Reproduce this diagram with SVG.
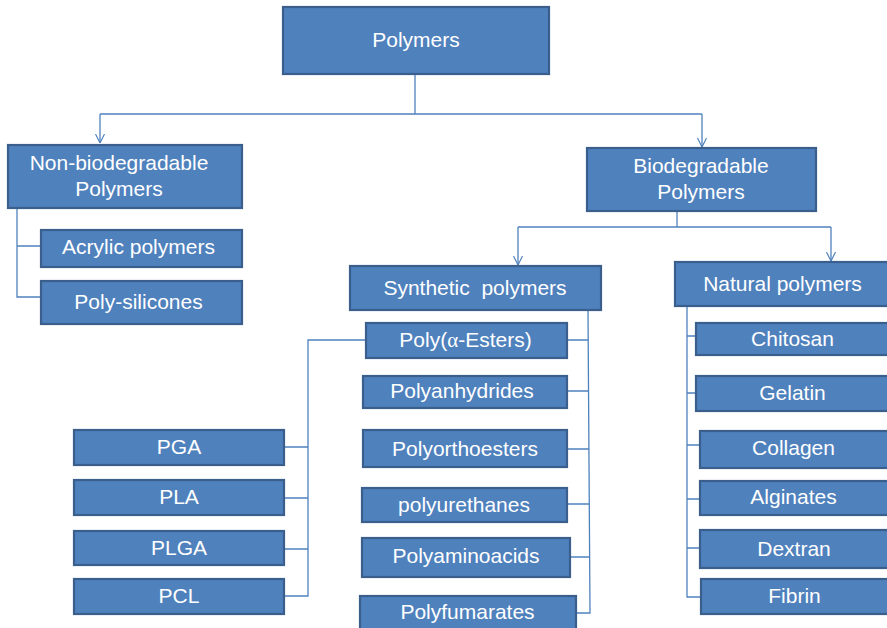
<svg xmlns="http://www.w3.org/2000/svg" width="887" height="628" viewBox="0 0 887 628">
<defs>
<style>
.box{fill:#4F81BD;stroke:#3A5F8C;stroke-width:2.2}
.t{fill:#FFFFFF;font-family:"Liberation Sans",Arial,sans-serif;font-size:21px;text-anchor:middle}
.c{fill:none;stroke:#4F81BD;stroke-width:1.3}
.a{fill:none;stroke:#4F81BD;stroke-width:1.3}
</style>
<marker id="arr" markerUnits="userSpaceOnUse" viewBox="0 0 10 10" refX="10" refY="5" markerWidth="9" markerHeight="10" orient="auto">
<path class="a" d="M0,0 L10,5 L0,10"/>
</marker>
</defs>
<rect width="887" height="628" fill="#FFFFFF"/>

<g id="connectors">
<path class="c" d="M415,74 V114"/>
<path class="c" d="M100,114 H702"/>
<path class="c" d="M100,114 V143" marker-end="url(#arr)"/>
<path class="c" d="M702,114 V147" marker-end="url(#arr)"/>
<path class="c" d="M677,211 V227"/>
<path class="c" d="M518,227 H831"/>
<path class="c" d="M518,227 V265" marker-end="url(#arr)"/>
<path class="c" d="M831,227 V261" marker-end="url(#arr)"/>
<path class="c" d="M17,208 V297 H41 M17,246 H41"/>
<path class="c" d="M588,310 L590,613 H576 M567,340 H588 M567,391 H588 M567,449 H589 M567,504 H589 M570,557 H590"/>
<path class="c" d="M366,340 H308 V596 H284 M308,447 H284 M308,498 H284 M308,549 H284"/>
<path class="c" d="M687,306 V597 H701 M687,336 H696 M687,393 H696 M687,445 H700 M687,499 H700 M687,548 H700"/>
</g>

<g id="n-polymers"><rect class="box" x="283" y="7" width="266" height="67"/><text class="t" x="416" y="47">Polymers</text></g>
<g id="n-nonbio"><rect class="box" x="8" y="145" width="234" height="63"/><text class="t" x="119" y="170">Non-biodegradable</text><text class="t" x="119" y="196">Polymers</text></g>
<g id="n-bio"><rect class="box" x="587" y="148" width="229" height="63"/><text class="t" x="701" y="173">Biodegradable</text><text class="t" x="701" y="199">Polymers</text></g>
<g id="n-acrylic"><rect class="box" x="41" y="230" width="201" height="37"/><text class="t" x="138.5" y="254">Acrylic polymers</text></g>
<g id="n-polysilicones"><rect class="box" x="41" y="281" width="201" height="43"/><text class="t" x="138.5" y="309">Poly-silicones</text></g>
<g id="n-synthetic"><rect class="box" x="350" y="266" width="251" height="44"/><text class="t" x="475" y="295" xml:space="preserve">Synthetic  polymers</text></g>
<g id="n-natural"><rect class="box" x="675" y="262" width="214" height="44"/><text class="t" x="782.5" y="291">Natural polymers</text></g>

<g id="n-esters"><rect class="box" x="366" y="323" width="201" height="35"/><text class="t" x="465.5" y="347">Poly(<tspan font-family="'Liberation Serif',serif">α</tspan>-Esters)</text></g>
<g id="n-anhydrides"><rect class="box" x="363" y="376" width="204" height="32"/><text class="t" x="462" y="398">Polyanhydrides</text></g>
<g id="n-orthoesters"><rect class="box" x="363" y="430" width="204" height="37"/><text class="t" x="465" y="456">Polyorthoesters</text></g>
<g id="n-urethanes"><rect class="box" x="362" y="488" width="205" height="34"/><text class="t" x="464" y="512">polyurethanes</text></g>
<g id="n-aminoacids"><rect class="box" x="362" y="538" width="208" height="39"/><text class="t" x="466" y="563">Polyaminoacids</text></g>
<g id="n-fumarates"><rect class="box" x="360" y="596" width="216" height="36"/><text class="t" x="467.5" y="619">Polyfumarates</text></g>

<g id="n-pga"><rect class="box" x="74" y="430" width="210" height="35"/><text class="t" x="179" y="454">PGA</text></g>
<g id="n-pla"><rect class="box" x="74" y="480" width="210" height="35"/><text class="t" x="179" y="504">PLA</text></g>
<g id="n-plga"><rect class="box" x="74" y="531" width="210" height="34"/><text class="t" x="179" y="555">PLGA</text></g>
<g id="n-pcl"><rect class="box" x="74" y="579" width="210" height="35"/><text class="t" x="179" y="603">PCL</text></g>

<g id="n-chitosan"><rect class="box" x="696" y="323" width="193" height="32"/><text class="t" x="792.5" y="346">Chitosan</text></g>
<g id="n-gelatin"><rect class="box" x="696" y="376" width="193" height="35"/><text class="t" x="792.5" y="400">Gelatin</text></g>
<g id="n-collagen"><rect class="box" x="700" y="431" width="189" height="37"/><text class="t" x="793.5" y="455">Collagen</text></g>
<g id="n-alginates"><rect class="box" x="700" y="481" width="189" height="34"/><text class="t" x="793.5" y="504">Alginates</text></g>
<g id="n-dextran"><rect class="box" x="700" y="530" width="189" height="38"/><text class="t" x="794" y="556">Dextran</text></g>
<g id="n-fibrin"><rect class="box" x="701" y="579" width="188" height="35"/><text class="t" x="794.5" y="603">Fibrin</text></g>
</svg>
